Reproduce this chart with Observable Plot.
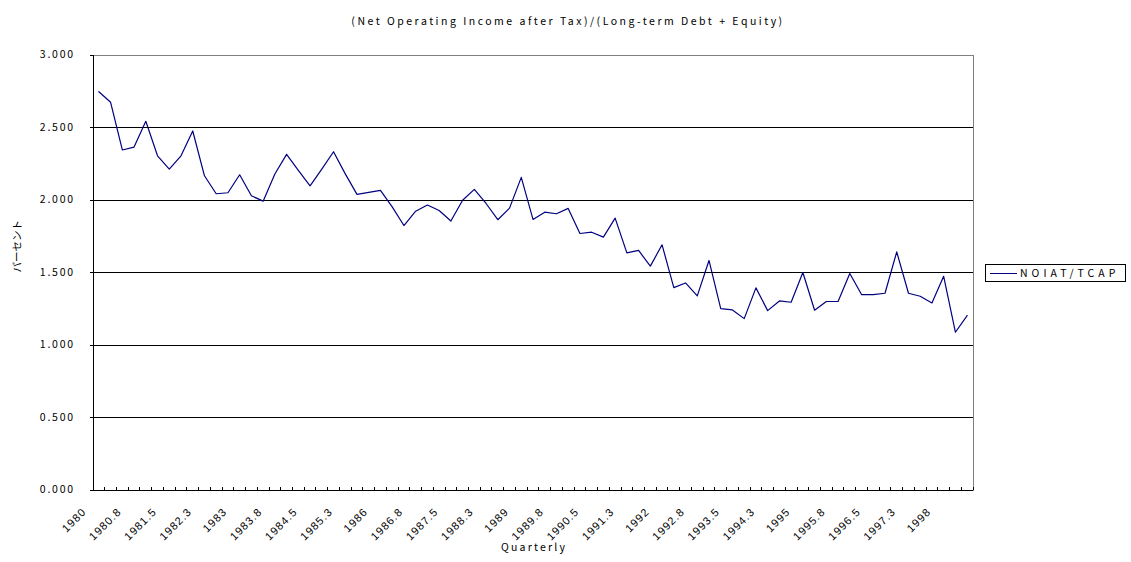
<!DOCTYPE html>
<html>
<head>
<meta charset="utf-8">
<script src="https://cdn.jsdelivr.net/npm/d3@7"></script>
<script src="https://cdn.jsdelivr.net/npm/@observablehq/plot@0.6"></script>
<style>
  html, body { margin: 0; padding: 0; background: #fff; }
  #wrap { position: relative; width: 1131px; height: 562px; }
  #legend { position: absolute; left: 985px; top: 264px; width: 141px; height: 18px;
    border: 1px solid #000; box-sizing: border-box; background: #fff;
    font-family: "Noto Sans CJK JP", "Noto Sans", sans-serif; font-size: 10.5px; letter-spacing: 4px; }
  #legend .sw { position: absolute; left: 4px; top: 8px; width: 27px; height: 0; border-top: 1.2px solid #000080; }
  #legend .lb { position: absolute; left: 34px; top: 1px; line-height: 14px; white-space: nowrap; }
</style>
</head>
<body>
<div id="wrap"></div>
<script>
const title = "(Net Operating Income after Tax)/(Long-term Debt + Equity)";
const xTitle = "Quarterly";
const yTitle = "パーセント";
const seriesName = "NOIAT/TCAP";

// quarterly values, 1980Q1 .. 1998Q3
const values = [
  2.747, 2.674, 2.345, 2.365, 2.543, 2.305, 2.213, 2.305, 2.476, 2.167,
  2.043, 2.050, 2.174, 2.029, 1.992, 2.179, 2.315, 2.205, 2.098, 2.213,
  2.333, 2.180, 2.039, 2.052, 2.066, 1.953, 1.824, 1.923, 1.965, 1.928,
  1.855, 1.998, 2.073, 1.976, 1.864, 1.944, 2.156, 1.866, 1.916, 1.905,
  1.942, 1.769, 1.778, 1.744, 1.875, 1.635, 1.652, 1.544, 1.691, 1.396,
  1.428, 1.339, 1.583, 1.251, 1.242, 1.182, 1.394, 1.237, 1.304, 1.295,
  1.500, 1.240, 1.300, 1.300, 1.493, 1.348, 1.348, 1.357, 1.642, 1.357,
  1.336, 1.290, 1.474, 1.088, 1.203
];

// category tick labels (every third quarter)
const xTickLabels = ["1980","1980.8","1981.5","1982.3","1983","1983.8","1984.5","1985.3",
  "1986","1986.8","1987.5","1988.3","1989","1989.8","1990.5","1991.3","1992","1992.8",
  "1993.5","1994.3","1995","1995.8","1996.5","1997.3","1998"];
const labelStep = 3;

const yTicks = [0, 0.5, 1.0, 1.5, 2.0, 2.5, 3.0];

const n = values.length;
const data = values.map((v, i) => ({i, v}));
const labelIdx = xTickLabels.map((t, k) => k * labelStep);
const labelOf = new Map(xTickLabels.map((t, k) => [k * labelStep, t]));
const boundaries = d3.range(n + 1).map(k => k - 0.5);

const chart = Plot.plot({
  width: 1131,
  height: 562,
  marginTop: 54.5,
  marginBottom: 72.5,
  marginLeft: 92.5,
  marginRight: 158.5,
  x: {domain: [-0.5, n - 0.5], axis: null},
  y: {domain: [0, 3], axis: null},
  style: {fontFamily: "'Noto Sans CJK JP', 'Noto Sans', sans-serif", fontSize: "10.5px", background: "#fff", color: "#000"},
  marks: [
    Plot.frame({stroke: "#808080", shapeRendering: "crispEdges"}),
    Plot.ruleY(yTicks.slice(1, -1), {stroke: "#000", strokeWidth: 1, shapeRendering: "crispEdges"}),
    Plot.ruleX([-0.5], {stroke: "#000", shapeRendering: "crispEdges"}),
    Plot.ruleY([0], {stroke: "#000", shapeRendering: "crispEdges"}),
    Plot.axisY(yTicks, {anchor: "left", label: null, tickSize: 3, tickPadding: 15, fontSize: 10.5, tickFormat: d => d.toFixed(3), stroke: "#000", shapeRendering: "crispEdges"}),
    Plot.axisX(boundaries, {anchor: "bottom", label: null, tickSize: 3, dy: -3, tickFormat: () => "", stroke: "#000", shapeRendering: "crispEdges"}),
    Plot.axisX(labelIdx, {anchor: "bottom", label: null, tickSize: 0, tickPadding: 0, tickRotate: -45, fontSize: 11, tickFormat: i => labelOf.get(i), dx: -14.5, dy: 20}),
    Plot.line(data, {x: "i", y: "v", stroke: "#000080", strokeWidth: 1.2}),
    Plot.text([title], {text: d => d, frameAnchor: "top", fontSize: 10.5, dx: 35, dy: -37.5}),
    Plot.text([xTitle], {text: d => d, frameAnchor: "bottom", fontSize: 10.5, dx: 1, dy: 61}),
    Plot.text([yTitle], {text: d => d, frameAnchor: "left", fontSize: 10.5, rotate: -90, dx: -75})
  ]
});

// letter spacing for the Excel-like spaced text
const spacing = new Map([[title, "2.5px"], [xTitle, "2.2px"]]);
d3.select(chart).selectAll("text").each(function() {
  const t = this.textContent;
  if (spacing.has(t)) this.style.letterSpacing = spacing.get(t);
  else if (/^\d\.\d{3}$/.test(t)) this.style.letterSpacing = "1.8px";
  else if (xTickLabels.includes(t)) {
    this.style.fontFamily = "'Liberation Sans', Arial, sans-serif";
    this.style.letterSpacing = "1.1px";
  }
});

const wrap = document.getElementById("wrap");
wrap.appendChild(chart);
const legend = document.createElement("div");
legend.id = "legend";
legend.innerHTML = `<span class="sw"></span><span class="lb">${seriesName}</span>`;
wrap.appendChild(legend);
</script>
</body>
</html>
